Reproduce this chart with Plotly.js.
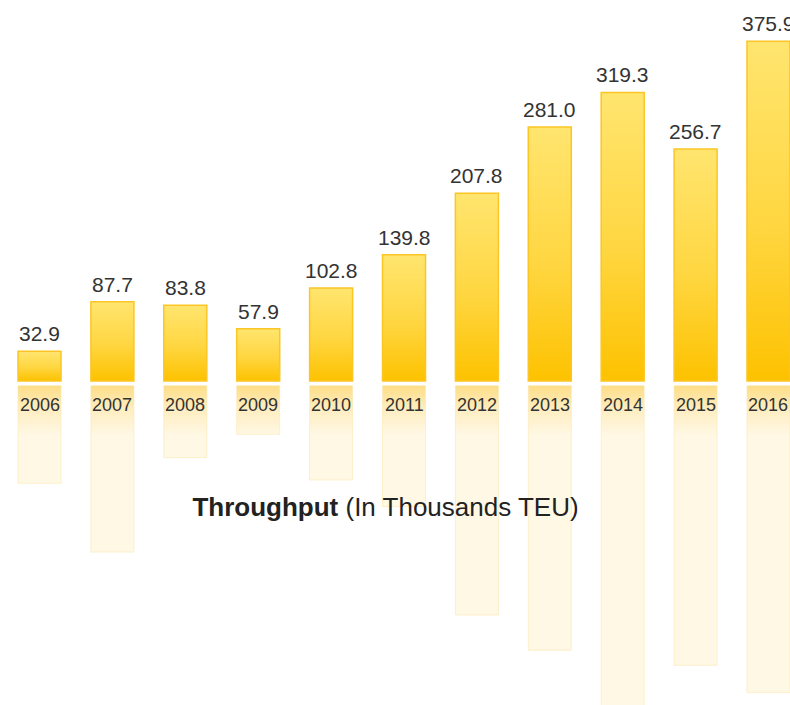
<!DOCTYPE html>
<html><head><meta charset="utf-8">
<script src="https://cdn.plot.ly/plotly-3.0.1.min.js"></script>
<style>html,body{margin:0;padding:0;background:#fff;overflow:hidden}#chart{width:790px;height:705px}</style>
</head><body><div id="chart"></div>
<script>
// Categories and values
const years = ['2006','2007','2008','2009','2010','2011','2012','2013','2014','2015','2016'];
const throughput = [32.9, 87.7, 83.8, 57.9, 102.8, 139.8, 207.8, 281.0, 319.3, 256.7, 375.9];
// Lengths of the faded "reflection" bars under the baseline (same units)
const reflection = [108, 184, 79.6, 53.8, 104.3, 133.8, 253.6, 292.7, 362, 309.3, 339.6];
const reflectionGap = 5.2;
const titleText = '<b>Throughput</b> (In Thousands TEU)';
const FONT = '"Liberation Sans", Arial, Helvetica, sans-serif';

const mainTrace = {type: 'bar', x: years, y: throughput,
  marker: {color: '#FDC300', line: {color: '#FCC526', width: 1.5}}, hoverinfo: 'skip'};
const reflTrace = {type: 'bar', x: years, y: reflection.map(v => -v), base: -reflectionGap,
  marker: {color: '#FFF8E4', line: {color: 'rgba(252,230,170,0.55)', width: 1}}, hoverinfo: 'skip'};

const valueLabels = years.map((yr, i) => ({
  x: i, y: throughput[i], xref: 'x', yref: 'y',
  text: throughput[i].toFixed(1), showarrow: false, yanchor: 'bottom', yshift: 4,
  font: {family: FONT, size: 21, color: '#333333'}
}));
const catLabels = years.map((yr, i) => ({
  x: i, y: -reflectionGap, xref: 'x', yref: 'y',
  text: yr, showarrow: false, yanchor: 'top', yshift: -7,
  font: {family: FONT, size: 18, color: '#333333'}
}));
const hiddenAxis = {showgrid: false, zeroline: false, showline: false, showticklabels: false, ticks: '', fixedrange: true};
const layout = {
  width: 790, height: 705, margin: {l: 0, r: 0, t: 0, b: 0, pad: 0},
  paper_bgcolor: '#ffffff', plot_bgcolor: '#ffffff', showlegend: false,
  barmode: 'overlay', bargap: 0.41,
  xaxis: Object.assign({type: 'category', range: [-0.542, 10.295]}, hiddenAxis),
  yaxis: Object.assign({range: [-358.4, 421.5]}, hiddenAxis),
  title: {text: titleText, x: 0.488, xref: 'container', xanchor: 'center',
    y: 1 - 507 / 705, yref: 'container', yanchor: 'middle',
    font: {family: FONT, size: 26, color: '#222222'}},
  annotations: valueLabels.concat(catLabels),
  hovermode: false
};

Plotly.newPlot('chart', [mainTrace, reflTrace], layout, {displayModeBar: false}).then(gd => {
  const NS = 'http://www.w3.org/2000/svg';
  const svg = gd.querySelector('svg.main-svg');
  let defs = svg.querySelector('defs');
  if (!defs) { defs = document.createElementNS(NS, 'defs'); svg.insertBefore(defs, svg.firstChild); }
  function grad(id, attrs, stops) {
    const g = document.createElementNS(NS, 'linearGradient');
    g.setAttribute('id', id);
    Object.keys(attrs).forEach(k => g.setAttribute(k, attrs[k]));
    stops.forEach(s => { const st = document.createElementNS(NS, 'stop');
      st.setAttribute('offset', s[0]); st.setAttribute('stop-color', s[1]); g.appendChild(st); });
    defs.appendChild(g);
  }
  grad('gMain', {x1: 0, y1: 0, x2: 0, y2: 1}, [[0, '#FFE56F'], [0.55, '#FFD640'], [1, '#FDC200']]);
  const top = gd._fullLayout.yaxis.l2p(-reflectionGap);
  grad('gRefl', {gradientUnits: 'userSpaceOnUse', x1: 0, y1: top, x2: 0, y2: top + 50},
    [[0, '#FDDD85'], [0.45, '#FEEDBF'], [1, '#FFF8E5']]);
  const traces = gd.querySelectorAll('.barlayer .trace');
  traces[0].querySelectorAll('path').forEach(p => { p.style.fill = 'url(#gMain)'; });
  traces[1].querySelectorAll('path').forEach(p => { p.style.fill = 'url(#gRefl)'; });
});
</script>
</body></html>
